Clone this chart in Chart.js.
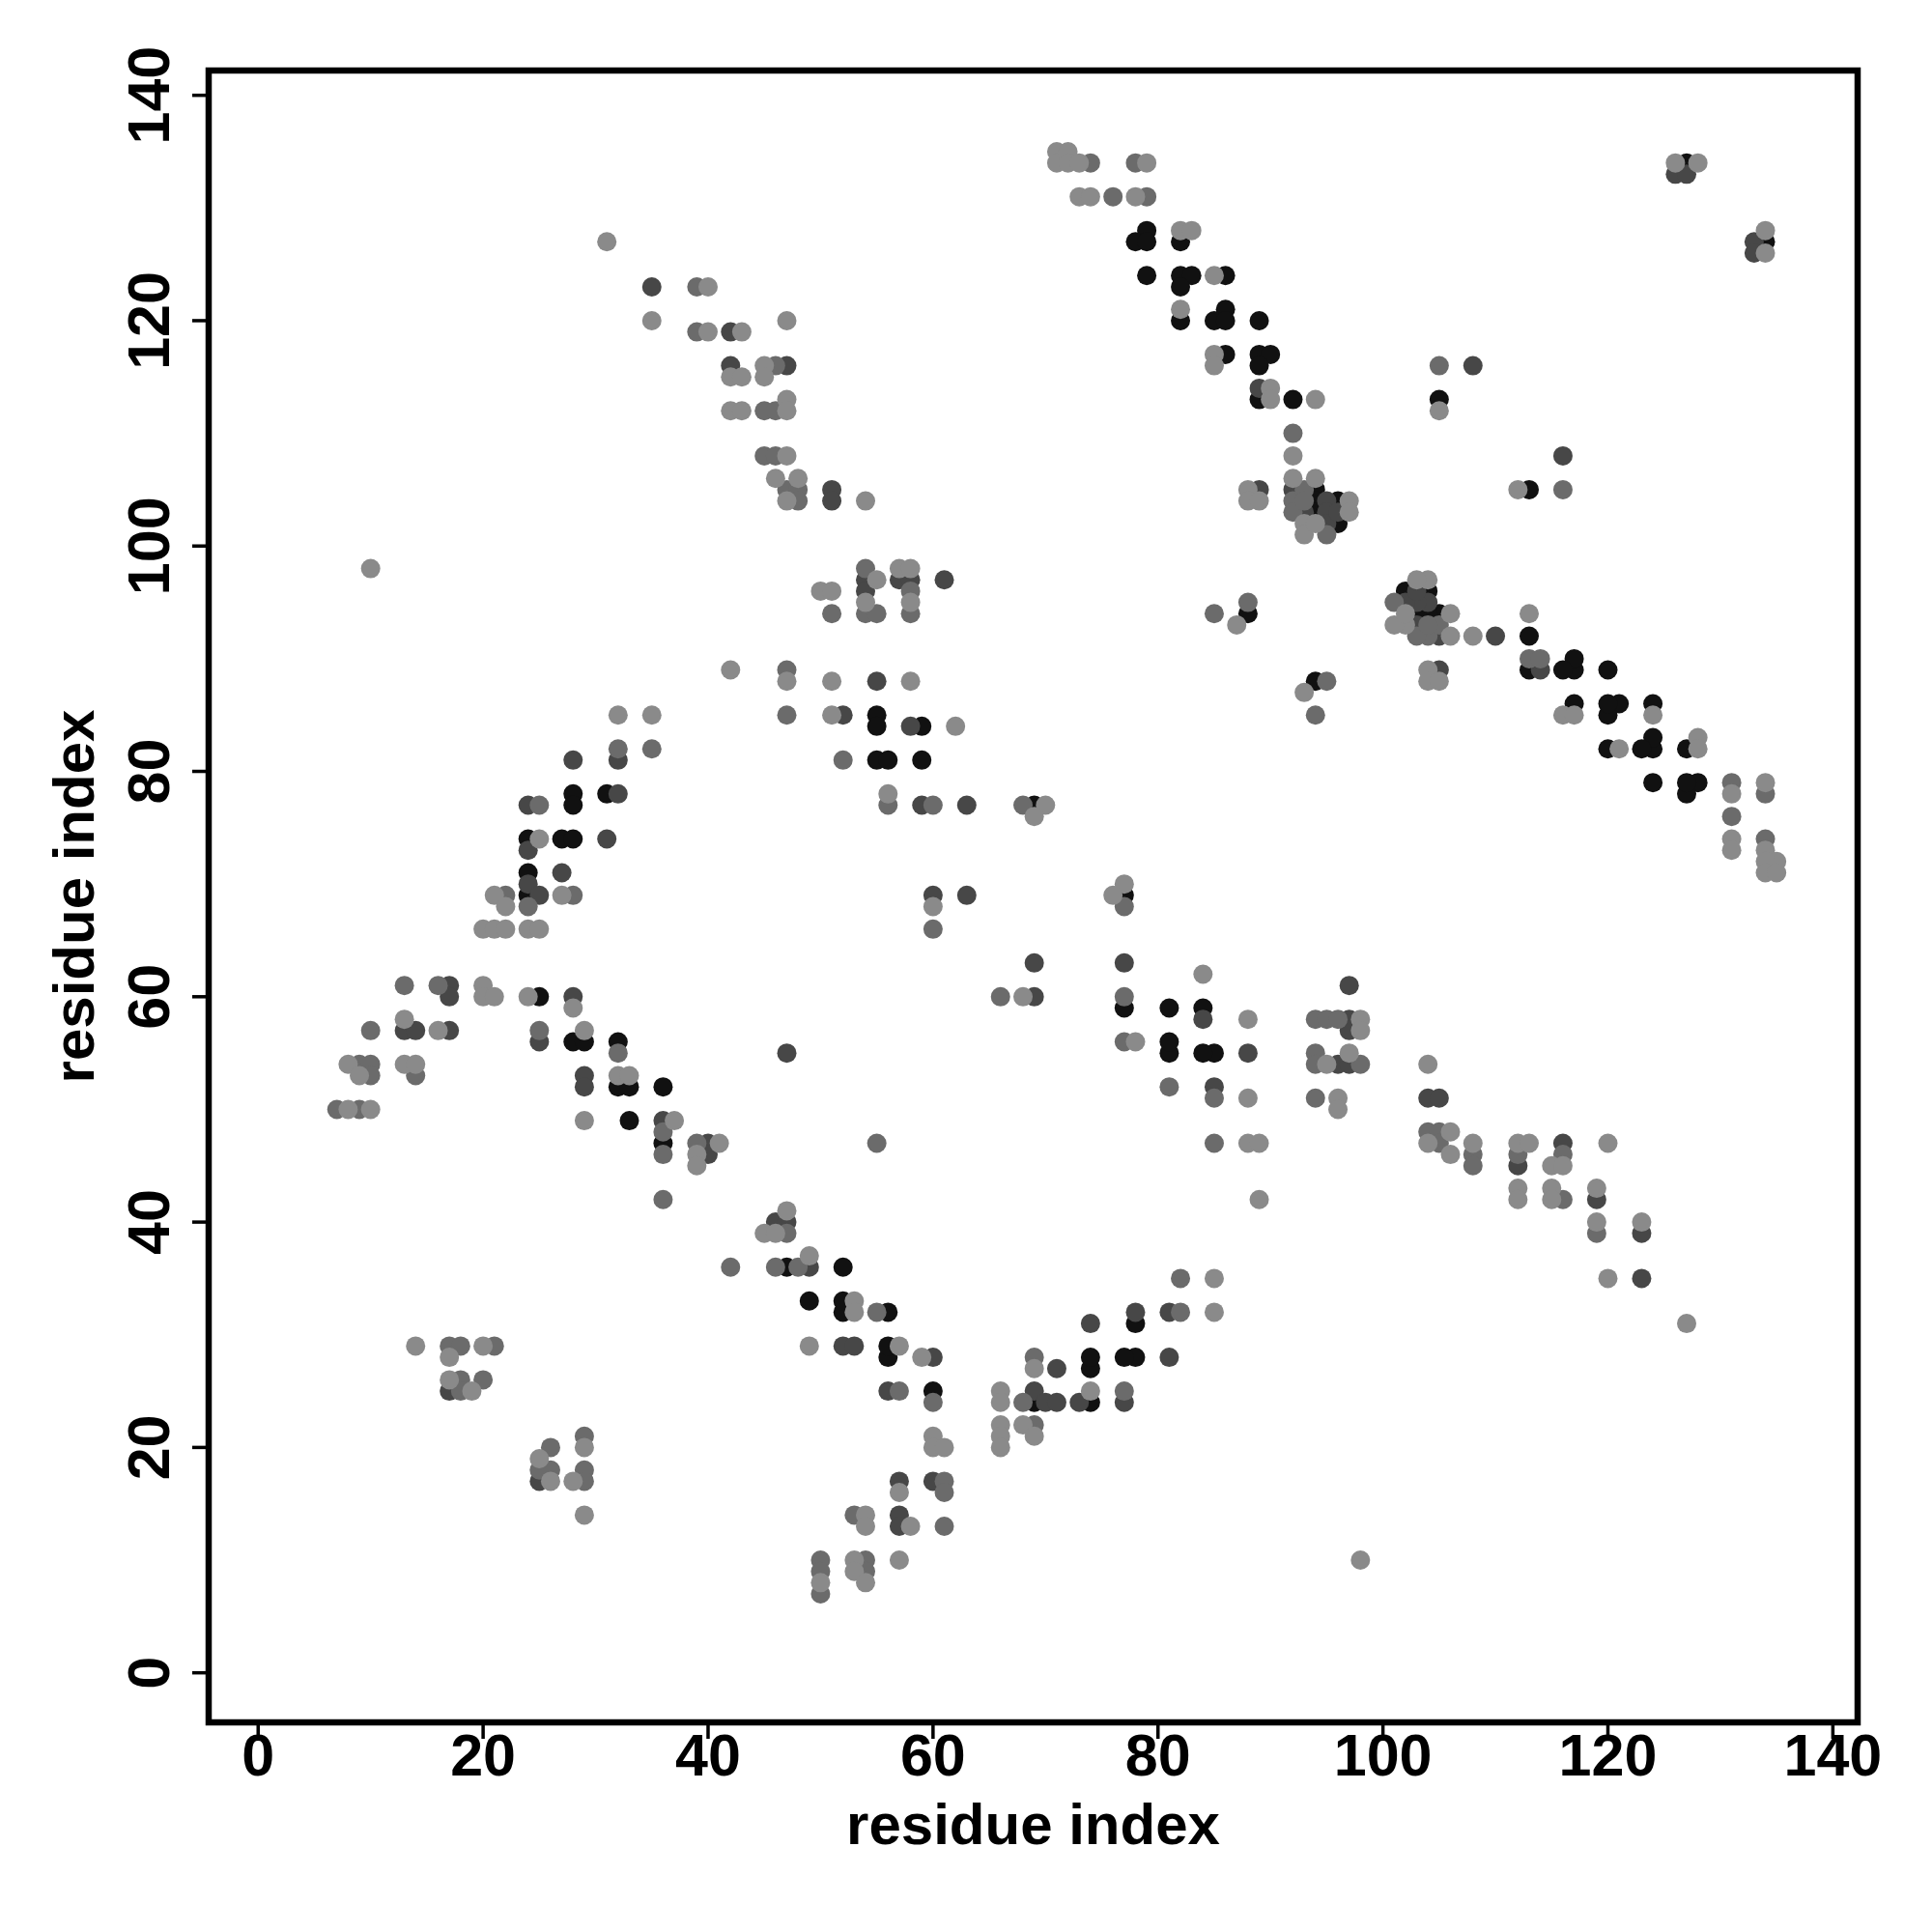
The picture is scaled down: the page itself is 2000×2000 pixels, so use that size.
<!DOCTYPE html>
<html>
<head>
<meta charset="utf-8">
<script src="https://cdn.jsdelivr.net/npm/chart.js@4.4.1/dist/chart.umd.min.js"></script>
<style>
  html, body { margin: 0; padding: 0; background: #fff; }
  canvas { display: block; }
</style>
</head>
<body>
<canvas id="contactMap" width="2000" height="2000" style="width:2000px;height:2000px"></canvas>
<script>
// tick labels
const xTicks = [0, 20, 40, 60, 80, 100, 120, 140];
const yTicks = [0, 20, 40, 60, 80, 100, 120, 140];

// contacts [residue i, residue j], grouped by grey level
const contactsBlack = [
  [79,128],[78,127],[79,127],[82,127],[79,124],[82,124],[83,124],[86,124],[82,123],[86,121],
  [82,120],[85,120],[86,120],[89,120],[86,117],[89,117],[90,117],[89,116],[89,113],[92,113],
  [88,94],[127,134],[105,113],[94,105],[94,104],[94,103],[96,104],[96,102],
  [28,78],[28,77],[31,78],[24,74],[27,74],[28,74],[24,71],[24,69],[25,60],[28,56],[29,56],[32,56],
  [32,52],[33,52],[36,52],[33,49],[55,85],[55,84],[59,84],[55,81],[56,81],[59,81],[69,77],[36,47],
  [128,79],[127,78],[127,79],[127,82],[124,79],[124,82],[124,83],[124,86],[123,82],[121,86],
  [120,82],[120,85],[120,86],[120,89],[117,86],[117,89],[117,90],[116,89],[113,89],[113,92],
  [94,88],[134,127],[113,105],[105,94],[104,94],[103,94],[104,96],[102,96],
  [78,28],[77,28],[78,31],[74,24],[74,27],[74,28],[69,24],[60,25],[56,28],[56,29],[56,32],
  [52,32],[52,33],[52,36],[49,33],[85,55],[84,55],[84,59],[81,55],[81,56],[81,59],[77,69],[77,59],[47,36]
];

const contactsDark = [
  [35,123],[42,119],[42,116],[47,116],[51,105],[51,104],[89,114],[89,105],[54,97],[54,96],[57,97],[58,97],[61,97],
  [126,133],[127,133],[108,116],[92,105],[93,103],[95,104],[95,103],[95,102],[96,103],
  [32,81],[28,81],[32,78],[24,77],[31,74],[24,73],[27,71],[24,70],[25,69],[17,61],[17,60],[28,60],
  [13,57],[14,57],[17,57],[25,56],[29,53],[29,52],[36,49],[55,88],[52,85],[58,84],[59,77],[63,77],
  [60,69],[63,69],[47,55],[40,47],[40,46],[17,25],
  [112,45],[116,47],[119,42],[123,39],[123,35],[105,89],[114,89],[110,92],[97,61],[97,58],[97,57],[96,54],[97,54],[104,51],[105,51],
  [133,127],[133,126],[116,108],[105,92],[103,93],[104,95],[103,95],[102,95],[103,96],
  [49,36],[78,32],[81,32],[74,31],[52,29],[53,29],[60,28],[71,27],[81,28],[56,25],[69,25],[70,24],[71,24],[73,24],[77,24],
  [57,17],[60,17],[57,14],[57,13],[69,63],[77,63],[69,60],[84,58],[88,55],[85,52],[46,40],[47,40],[25,17]
];

const contactsMid = [
  [39,123],[39,119],[46,116],[45,112],[46,112],[45,108],[46,108],[47,105],[48,105],[48,104],
  [74,134],[78,134],[76,131],[79,131],[92,110],[54,98],[54,94],[55,94],[51,94],[58,96],[58,94],[85,94],[88,95],
  [105,116],[92,104],[92,103],[93,105],[93,104],[95,101],
  [47,89],[47,85],[32,82],[35,82],[25,77],[22,69],[28,69],[24,68],[13,61],[16,61],[10,57],[25,57],[32,55],
  [9,54],[10,54],[10,53],[14,53],[7,50],[9,50],[36,48],[52,81],[56,77],[60,77],[68,77],[60,66],
  [36,46],[39,47],[36,42],[17,29],[18,29],[21,29],[18,26],[20,26],[18,25],
  [104,48],[105,48],[105,47],[108,46],[108,45],[112,46],[116,46],[116,42],[119,39],
  [95,88],[94,85],[113,90],[114,90],[131,79],[134,78],[131,76],[134,74],[104,92],[103,92],
  [94,58],[95,58],[96,58],[94,55],[94,54],[98,54],[94,51],
  [116,105],[105,93],[104,93],[101,95],
  [55,47],[85,47],[48,36],[82,35],[55,32],[82,32],[69,28],[57,25],[60,24],[68,24],[77,25],[69,22],
  [61,17],[61,16],[53,14],[61,13],[50,10],[50,9],[50,7],[54,10],[54,9],
  [77,68],[66,60],[77,60],[77,56],[81,52],[85,51],
  [47,39],[42,36],[46,36],[29,21],[26,20],[25,18],[26,18],[29,18],[29,17]
];

const contactsLight = [
  [31,127],[40,123],[35,120],[40,119],[43,119],[47,120],[42,115],[43,115],[45,116],[45,115],[47,113],[42,112],[43,112],[47,112],[47,108],[46,106],[48,106],[47,104],[10,98],
  [54,104],[71,135],[72,135],[71,134],[72,134],[73,134],[79,134],[73,131],[74,131],[78,131],[82,128],[83,128],[85,124],[82,121],[85,117],[85,116],[90,114],[90,113],[92,108],[88,105],[88,104],[89,104],
  [54,95],[55,97],[50,96],[51,96],[57,98],[58,98],[58,95],[87,93],
  [126,134],[128,134],[94,113],[105,112],
  [92,106],[93,102],[93,101],[94,106],[94,102],[97,104],[97,103],
  [42,89],[47,88],[32,85],[35,85],[25,74],[21,69],[27,69],[22,68],[20,66],[21,66],[22,66],[24,66],[25,66],
  [20,61],[20,60],[21,60],[24,60],[28,59],[13,58],[16,57],[29,57],[8,54],[13,54],[14,54],[9,53],[32,53],[33,53],[8,50],[10,50],[29,49],[37,49],
  [51,88],[58,88],[51,85],[62,84],[56,78],[70,77],[69,76],[60,68],
  [41,47],[39,46],[39,45],[14,29],[20,29],[17,28],[17,26],[19,25],
  [106,48],[104,47],[106,46],[108,47],[112,47],[113,47],[115,45],[116,45],[120,47],[112,43],[112,42],[115,43],[115,42],[119,43],[119,40],[123,40],[120,35],[127,31],[98,10],
  [104,89],[104,88],[105,88],[93,87],[116,85],[117,85],[124,85],[128,83],[128,82],[121,82],[131,78],[134,79],[131,74],[131,73],[134,73],[135,72],[134,72],[134,71],[135,71],
  [108,92],[106,92],[113,94],[98,58],[98,57],[97,55],[95,54],[104,54],[96,51],[96,50],
  [134,128],[134,126],[112,105],
  [102,93],[101,93],[106,94],[102,94],[104,97],[103,97],
  [88,47],[89,47],[89,42],[49,37],[85,35],[53,33],[53,32],[85,32],[49,29],[57,29],[59,28],[69,27],[66,25],[66,24],[74,25],
  [66,22],[66,21],[66,20],[68,22],[69,21],[60,21],[60,20],[61,20],[57,16],[54,14],[54,13],[58,13],[50,8],[53,10],[53,9],[54,8],[57,10],
  [77,70],[76,69],[68,60],[84,62],[88,58],[78,56],[88,51],
  [47,41],[45,39],[46,39],[29,20],[25,19],[26,17],[28,17],[29,14]
];

const FONT = '"Liberation Sans", Arial, Helvetica, sans-serif';
const toXY = list => list.map(p => ({ x: p[0], y: p[1] }));

// box, tick marks and rotated y labels (R style)
const frame = {
  id: 'frame',
  afterDraw(chart) {
    const { ctx, chartArea: a, scales: { x, y } } = chart;
    ctx.save();
    ctx.strokeStyle = '#000';
    ctx.lineWidth = 3.5;
    xTicks.forEach(v => {
      const px = x.getPixelForValue(v);
      ctx.beginPath(); ctx.moveTo(px, a.bottom); ctx.lineTo(px, a.bottom + 17); ctx.stroke();
    });
    yTicks.forEach(v => {
      const py = y.getPixelForValue(v);
      ctx.beginPath(); ctx.moveTo(a.left, py); ctx.lineTo(a.left - 17, py); ctx.stroke();
    });
    ctx.lineWidth = 6.5;
    ctx.strokeRect(a.left, a.top, a.right - a.left, a.bottom - a.top);

    ctx.fillStyle = '#000';
    ctx.font = 'bold 61px ' + FONT;
    ctx.textAlign = 'center';
    ctx.textBaseline = 'alphabetic';
    yTicks.forEach(v => {
      const py = y.getPixelForValue(v);
      ctx.save();
      ctx.translate(a.left - 41, py);
      ctx.rotate(-Math.PI / 2);
      ctx.fillText(String(v), 0, 0);
      ctx.restore();
    });
    ctx.restore();
  }
};

const ctx = document.getElementById('contactMap').getContext('2d');
new Chart(ctx, {
  type: 'scatter',
  data: {
    datasets: [
      { label: 'light', data: toXY(contactsLight), backgroundColor: '#8a8a8a' },
      { label: 'mid', data: toXY(contactsMid), backgroundColor: '#6b6b6b' },
      { label: 'dark', data: toXY(contactsDark), backgroundColor: '#474747' },
      { label: 'black', data: toXY(contactsBlack), backgroundColor: '#111111' }
    ]
  },
  options: {
    responsive: false,
    devicePixelRatio: 1,
    animation: false,
    layout: { padding: { left: 0, right: 77, top: 73, bottom: 0 } },
    elements: { point: { radius: 10, borderWidth: 0, hoverRadius: 10 } },
    plugins: { legend: { display: false }, tooltip: { enabled: false } },
    scales: {
      x: {
        type: 'linear',
        min: -4.4,
        max: 142.2,
        grid: { display: false, drawTicks: false },
        border: { display: false },
        afterBuildTicks: s => { s.ticks = xTicks.map(v => ({ value: v })); },
        afterFit: s => { s.height = 217; },
        ticks: {
          color: '#000',
          padding: 2,
          maxRotation: 0,
          autoSkip: false,
          font: { family: FONT, size: 61, weight: 'bold' }
        },
        title: {
          display: true,
          text: 'residue index',
          color: '#000',
          font: { family: FONT, size: 60, weight: 'bold' },
          padding: { top: 0, bottom: 72 }
        }
      },
      y: {
        type: 'linear',
        min: -4.4,
        max: 142.2,
        grid: { display: false, drawTicks: false },
        border: { display: false },
        afterBuildTicks: s => { s.ticks = yTicks.map(v => ({ value: v })); },
        afterFit: s => { s.width = 216; },
        ticks: { display: false },
        title: {
          display: true,
          text: 'residue index',
          color: '#000',
          font: { family: FONT, size: 60, weight: 'bold' },
          padding: { top: 44, bottom: 0 }
        }
      }
    }
  },
  plugins: [frame]
});
</script>
</body>
</html>
